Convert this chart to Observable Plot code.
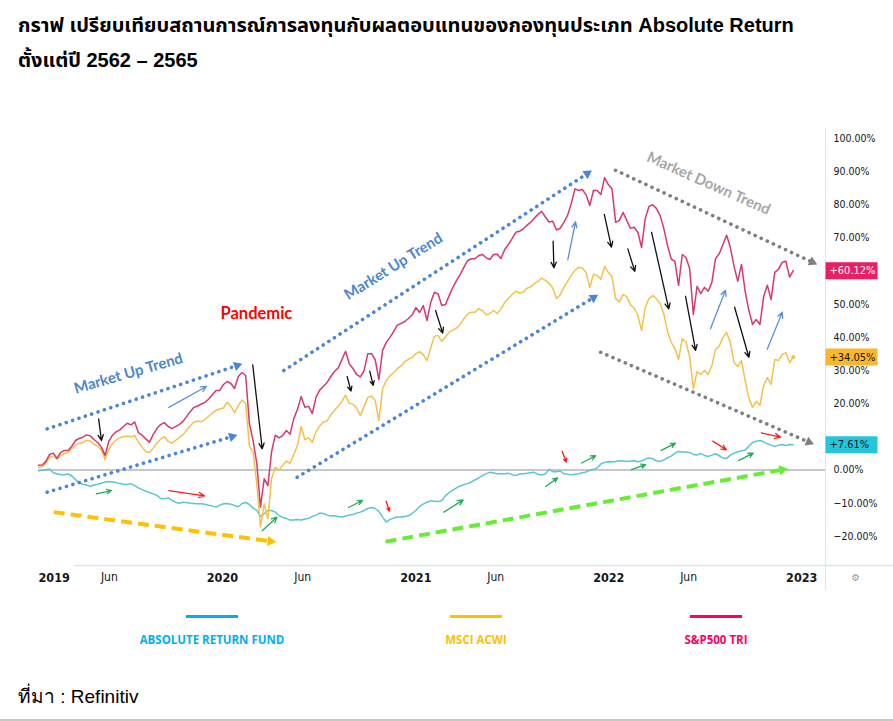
<!DOCTYPE html>
<html>
<head>
<meta charset="utf-8">
<script src="https://cdn.jsdelivr.net/npm/d3@7"></script>
<script src="https://cdn.jsdelivr.net/npm/@observablehq/plot@0.6"></script>
<style>
  body { margin: 0; background: #fff; }
  #wrap { position: relative; width: 893px; height: 721px; overflow: hidden; background: #fff; }
  #title { position: absolute; left: 18px; top: 8px; font: bold 20px/35px "Liberation Sans Narrow", "Liberation Sans", "Noto Sans Thai", sans-serif; color: #000; white-space: nowrap; }
  #chart { position: absolute; left: 0; top: 85px; }
  .lg { position: absolute; top: 615px; width: 220px; text-align: center; }
  .ln { width: 52px; height: 3px; margin: 0 auto; }
  .lt { margin-top: 15px; font: bold 11.5px/14px "Open Sans", sans-serif; }
  #caption { position: absolute; left: 18px; top: 684px; font: 19px/26px "Liberation Sans Narrow", "Liberation Sans", sans-serif; color: #000; }
  #bottomline { position: absolute; left: 0; top: 719px; width: 893px; height: 2px; background: #c8c8c8; }
</style>
</head>
<body>
<div id="wrap">
  <div id="title">กราฟ เปรียบเทียบสถานการณ์การลงทุนกับผลตอบแทนของกองทุนประเภท Absolute Return<br>ตั้งแต่ปี 2562 – 2565</div>
  <div id="chart"></div>
  <div id="legend"></div>
  <div id="caption">ที่มา : Refinitiv</div>
  <div id="bottomline"></div>
</div>
<script>
// ---------- data (weekly closes, % return since Jan 2019) ----------
const startDate = "2019-01-18";
const endDate = "2022-12-17";

const sp500 = [
  1.4, 1.5, 2.6, 4.7, 5.1, 3.5, 5.3, 5.9, 5.9, 7.2,
  8.9, 9.5, 9.9, 10.6, 10.3, 9.2, 8.3, 6.9, 4.4, 8.6,
  10.5, 11.5, 12.1, 13.2, 14.1, 13.6, 14.5, 11.3, 10.5, 9.4,
  8.4, 10.7, 12.5, 13.7, 14.3, 13.2, 12.5, 13.1, 13.7, 14.6,
  16.1, 17.6, 18.9, 19.3, 19.9, 20.4, 21.4, 22.7, 24.0, 24.0,
  25.8, 26.7, 26.1, 24.6, 28.2, 29.4, 28.5, 14.0, 8.9, 2.0,
  -11.2, -2.6, -4.7, 5.5, 10.5, 9.7, 10.4, 11.9, 10.8, 15.5,
  18.3, 22.2, 18.9, 19.2, 17.0, 21.9, 24.1, 25.2, 26.4, 28.2,
  29.7, 30.8, 33.3, 35.8, 32.0, 30.6, 28.8, 28.1, 30.0, 35.1,
  35.1, 33.3, 27.3, 36.1, 38.5, 40.0, 41.8, 43.7, 44.2, 44.8,
  45.7, 46.8, 49.0, 47.5, 49.6, 45.1, 50.5, 53.6, 53.1, 49.6,
  49.9, 52.6, 55.1, 57.2, 59.0, 61.2, 63.2, 63.7, 63.7, 64.7,
  65.0, 64.0, 63.5, 65.0, 65.1, 63.8, 66.5, 68.0, 69.8, 71.7,
  72.0, 72.7, 73.8, 74.7, 75.9, 77.1, 78.0, 76.3, 74.8, 75.0,
  72.4, 72.9, 74.7, 76.8, 80.4, 84.8, 84.3, 84.6, 83.0, 79.8,
  84.3, 84.3, 83.1, 88.2, 86.1, 84.8, 74.7, 75.3, 77.7, 75.3,
  72.9, 73.2, 71.7, 67.1, 75.9, 79.5, 80.0, 78.9, 76.8, 72.9,
  67.8, 63.7, 62.9, 55.7, 65.0, 64.1, 60.8, 46.9, 55.4, 53.2,
  55.1, 53.9, 56.6, 63.8, 65.2, 68.0, 70.8, 67.1, 61.4, 56.9,
  62.0, 53.9, 48.1, 43.9, 45.4, 43.9, 52.3, 55.7, 51.4, 59.6,
  60.5, 62.6, 63.0, 58.2, 60.12
];

const msciAcwi = [
  0.8, 0.9, 2.0, 3.8, 4.2, 3.3, 4.4, 5.0, 5.2, 6.5,
  7.5, 8.1, 8.3, 9.0, 8.7, 7.7, 7.2, 6.0, 3.2, 6.3,
  8.0, 9.1, 9.7, 10.1, 10.2, 10.0, 10.4, 8.4, 6.9, 5.6,
  5.3, 6.6, 8.1, 9.3, 10.0, 8.7, 8.1, 8.9, 9.7, 10.6,
  12.0, 13.3, 14.5, 14.7, 14.6, 15.3, 16.2, 17.2, 18.0, 18.4,
  18.7, 20.4, 19.2, 17.3, 19.4, 21.1, 20.1, 7.2, 5.3, -4.1,
  -17.2, -10.2, -14.7, -2.6, 0.8, 0.0, 1.4, 2.7, 2.0, 4.7,
  7.4, 13.1, 9.2, 9.7, 8.3, 11.6, 13.3, 14.5, 14.8, 16.6,
  18.0, 19.2, 20.7, 22.6, 20.1, 19.8, 18.6, 16.4, 19.2, 21.9,
  22.3, 21.0, 14.9, 24.5, 27.0, 28.4, 29.4, 30.6, 31.4, 32.7,
  33.4, 33.9, 35.1, 35.7, 34.8, 33.0, 36.8, 40.3, 40.6, 38.8,
  40.1, 41.6, 42.2, 42.8, 43.9, 45.7, 47.1, 47.6, 47.6, 48.7,
  48.0, 46.8, 47.2, 48.1, 47.2, 48.6, 50.5, 51.7, 52.9, 53.9,
  53.4, 53.6, 54.8, 55.2, 56.2, 56.9, 57.9, 57.2, 56.3, 54.9,
  51.7, 52.8, 55.1, 56.9, 58.7, 60.3, 61.1, 60.9, 59.6, 55.1,
  59.0, 58.7, 57.5, 61.4, 59.6, 58.4, 51.7, 50.7, 52.9, 52.3,
  49.8, 48.9, 46.6, 42.1, 49.0, 51.7, 52.6, 51.7, 50.2, 47.2,
  41.8, 38.5, 36.7, 33.3, 39.6, 38.6, 34.2, 24.6, 29.7, 28.8,
  30.0, 28.8, 31.5, 36.4, 37.4, 40.0, 41.5, 38.5, 32.4, 31.2,
  33.0, 27.0, 21.6, 18.9, 20.7, 19.5, 25.5, 27.9, 25.8, 33.3,
  33.0, 34.8, 35.4, 32.4, 34.05
];

const absReturnFund = [
  -0.2, -0.1, 0.1, 0.3, -0.8, -1.1, -1.4, -1.4, -1.2, -1.8,
  -2.9, -3.9, -4.3, -4.5, -4.9, -4.5, -4.3, -4.0, -3.6, -3.5,
  -3.6, -3.8, -4.1, -4.3, -4.4, -4.1, -4.7, -5.4, -5.9, -6.4,
  -6.8, -7.2, -7.6, -8.6, -8.7, -8.4, -9.1, -9.7, -10.0, -9.7,
  -9.8, -10.0, -10.1, -10.2, -10.2, -10.3, -10.6, -10.9, -11.2, -10.6,
  -10.2, -10.1, -10.3, -10.7, -11.1, -10.1, -9.8, -10.4, -11.5, -12.2,
  -14.0, -13.2, -12.2, -12.2, -12.7, -13.7, -14.3, -14.6, -15.1, -15.1,
  -14.9, -15.1, -14.8, -14.6, -14.0, -13.6, -13.0, -13.1, -13.6, -13.9,
  -13.8, -14.0, -14.2, -13.9, -13.6, -13.4, -13.0, -12.7, -12.2, -11.6,
  -11.3, -11.6, -12.5, -14.2, -15.7, -14.9, -14.5, -14.2, -14.2, -14.0,
  -13.8, -13.1, -12.2, -11.0, -10.3, -9.7, -9.3, -9.4, -9.5, -9.2,
  -7.8, -6.8, -6.1, -5.4, -4.8, -4.4, -4.1, -3.6, -3.0, -2.4,
  -1.7, -1.1, -0.7, -0.9, -1.1, -1.1, -1.1, -1.0, -1.4, -1.7,
  -1.2, -1.1, -1.0, -0.8, -0.7, -1.3, -1.5, -1.2, 0.2, -0.5,
  -0.5, -0.3, -1.1, -1.3, -1.4, -1.3, -1.1, -0.8, -0.6, -0.1,
  0.2, 0.6, 1.8, 2.3, 2.5, 2.4, 2.6, 2.8, 2.7, 2.6,
  2.7, 2.8, 2.5, 2.7, 3.3, 3.6, 3.4, 2.8, 2.6, 3.0,
  3.7, 4.2, 5.0, 5.6, 5.4, 5.4, 5.3, 4.7, 4.5, 5.0,
  4.4, 4.1, 4.5, 4.9, 4.3, 3.6, 3.5, 4.5, 5.1, 5.5,
  5.8, 6.0, 7.2, 8.3, 8.7, 8.9, 8.5, 7.9, 7.5, 7.1,
  7.5, 7.7, 7.4, 7.7, 7.61
];

const seriesNames = ["ABSOLUTE RETURN FUND", "MSCI ACWI", "S&P500 TRI"];
const lineColors = ["#5cc4d6", "#f2c14e", "#d63a6c"];
const legendColors = ["#00b0f0", "#ffc000", "#ff0066"];
const badgeColors = ["#26c6da", "#f9b82b", "#e91e63"];
const badgeTextColors = ["#131722", "#131722", "#ffffff"];

// 60.00% and 10.00% sit under the last-value badges, as in the original
const yTicks = [-20, -10, 0, 20, 30, 40, 50, 70, 80, 90, 100];
const xTickDates = ["2019-01-18", "2019-06-01", "2020-01-01", "2020-06-01", "2021-01-01", "2021-06-01", "2022-01-01", "2022-06-01", "2023-01-01"];
const xTickLabels = ["2019", "Jun", "2020", "Jun", "2021", "Jun", "2022", "Jun", "2023"];

// annotations (t = decimal year, v = % value)
const blueTrends = [
  {t1: 2019.092, v1: 12.4, t2: 2020.076, v2: 31.5},
  {t1: 2019.092, v1: -6.7, t2: 2020.050, v2: 10.1},
  {t1: 2020.318, v1: 30.0, t2: 2021.890, v2: 89.4},
  {t1: 2020.387, v1: -2.2, t2: 2021.922, v2: 52.0}
];
const grayTrends = [
  {t1: 2022.036, v1: 90.4, t2: 2023.055, v2: 62.7},
  {t1: 2021.959, v1: 35.5, t2: 2023.038, v2: 8.4}
];
const orangeTrend = [{t1: 2019.126, v1: -12.7, t2: 2020.249, v2: -21.5}];
const greenTrend = [{t1: 2020.845, v1: -21.6, t2: 2022.900, v2: 0.1}];

const trendLabels = [
  {t: 2019.513, v: 29.1, text: "Market Up Trend", rot: -16, color: "#4a86d0", size: 15},
  {t: 2020.886, v: 61.4, text: "Market Up Trend", rot: -32, color: "#4a86d0", size: 15},
  {t: 2022.518, v: 86.4, text: "Market Down Trend", rot: 24, color: "#a6a6a6", size: 15},
  {t: 2020.176, v: 47.2, text: "Pandemic", rot: 0, color: "#ff0000", size: 16.5}
];

const blackArrows = [
  [2019.359, 15.4, 2019.373, 8.9], [2020.157, 31.7, 2020.206, 6.4],
  [2020.646, 28.2, 2020.666, 23.8], [2020.763, 29.8, 2020.781, 25.5],
  [2021.104, 48.1, 2021.141, 41.3], [2021.713, 69.0, 2021.717, 61.0],
  [2021.978, 77.1, 2022.015, 67.2], [2022.100, 66.7, 2022.136, 59.9],
  [2022.223, 71.7, 2022.312, 48.6], [2022.399, 52.4, 2022.451, 36.1],
  [2022.653, 49.1, 2022.727, 34.0]
];
const blueArrows = [
  [2019.722, 18.9, 2019.917, 25.2], [2021.789, 63.4, 2021.829, 74.8],
  [2022.528, 42.6, 2022.606, 54.2], [2022.822, 36.4, 2022.900, 47.6]
];
const redArrows = [
  [2019.722, -6.2, 2019.907, -7.8], [2020.848, -9.4, 2020.865, -12.4],
  [2021.760, 5.6, 2021.782, 2.4], [2022.540, 8.7, 2022.610, 6.1],
  [2022.791, 11.2, 2022.891, 9.9]
];
const greenArrows = [
  [2019.347, -7.2, 2019.425, -6.2], [2020.206, -18.3, 2020.283, -14.2],
  [2020.653, -11.3, 2020.725, -9.2], [2021.147, -12.7, 2021.247, -9.0],
  [2021.674, -5.0, 2021.736, -2.4], [2021.860, 2.1, 2021.933, 4.3],
  [2022.118, 0.15, 2022.192, 1.6], [2022.273, 5.9, 2022.347, 8.1],
  [2022.675, 2.9, 2022.750, 5.1]
];

// ---------- build ----------
const W = 893, H = 515;
const mL = 38, mR = 68, mT = 43, mB = 35;
const xDomain = [new Date("2019-01-18"), new Date("2023-02-15")];
const yDomain = [-28.8, 103];
const yr = t => new Date(Date.UTC(2020, 0, 1) + (t - 2020) * 365.25 * 864e5);

const dates = d3.utcFriday.range(new Date(startDate), new Date(endDate));
const seriesValues = [absReturnFund, msciAcwi, sp500];
const rows = seriesValues.map((vals, s) => vals.map((v, i) => ({date: dates[i], value: v, s})));

// screen-space helper scales only for arrowhead orientation
const xs = d3.scaleUtc().domain(xDomain).range([mL, W - mR]);
const ys = d3.scaleLinear().domain(yDomain).range([H - mB, mT]);
const headAngle = d => Math.atan2(ys(d.v2) - ys(d.v1), xs(yr(d.t2)) - xs(yr(d.t1))) * 180 / Math.PI + 90;

const toObj = a => ({t1: a[0], v1: a[1], t2: a[2], v2: a[3]});
const arrowMark = (arr, color) => Plot.arrow(arr.map(toObj), {
  x1: d => yr(d.t1), y1: "v1", x2: d => yr(d.t2), y2: "v2",
  stroke: color, strokeWidth: 1.3, headLength: 7, headAngle: 50
});
const dottedMark = (arr, color) => [
  Plot.link(arr, {x1: d => yr(d.t1), y1: "v1", x2: d => yr(d.t2), y2: "v2",
    stroke: color, strokeWidth: 3.6, strokeDasharray: "0.1 6.6", strokeLinecap: "round"}),
  Plot.dot(arr, {x: d => yr(d.t2), y: "v2", symbol: "triangle2", r: 4.6, fill: color, stroke: "none", rotate: headAngle})
];
const dashedMark = (arr, color) => [
  Plot.link(arr, {x1: d => yr(d.t1), y1: "v1", x2: d => yr(d.t2), y2: "v2",
    stroke: color, strokeWidth: 4, strokeDasharray: "11 6"}),
  Plot.dot(arr, {x: d => yr(d.t2), y: "v2", symbol: "triangle2", r: 4.8, fill: color, stroke: "none", rotate: headAngle})
];

const badgeSymbol = {draw(ctx) { ctx.rect(0, -8.5, 52, 17); }};
const endLabels = seriesValues.map((vals, s) => ({v: vals[vals.length - 1], s}));
const xTicks = xTickDates.map((d, i) => ({date: new Date(d), label: xTickLabels[i], year: xTickLabels[i] !== "Jun"}));

const plot = Plot.plot({
  width: W, height: H,
  marginLeft: mL, marginRight: mR, marginTop: mT, marginBottom: mB,
  style: {fontFamily: "'Liberation Sans Narrow', 'DejaVu Sans Condensed', 'Liberation Sans', sans-serif", fontSize: "10.5px", color: "#131722", background: "#fff", overflow: "visible"},
  x: {type: "utc", domain: xDomain, axis: null},
  y: {domain: yDomain, axis: null},
  color: {type: "identity"},
  marks: [
    Plot.ruleX([xDomain[1]], {y1: yDomain[0] - 7.5, y2: yDomain[1], stroke: "#e0e3eb", strokeWidth: 1}),
    Plot.ruleY([yDomain[0]], {x1: yr(2019.233), x2: yr(2023.48), stroke: "#e0e3eb", strokeWidth: 1.5}),
    Plot.ruleY([0], {stroke: "#b2b5be", strokeWidth: 1.5}),
    Plot.axisY(yTicks, {anchor: "right", tickSize: 0, tickPadding: 8, fontSize: 10.5,
      tickFormat: d => (d < 0 ? "\u2212" : "") + Math.abs(d).toFixed(2) + "%"}),
    Plot.text(xTicks.filter(d => d.year && d.label === "2019"), {x: "date", y: () => yDomain[0], dy: 12, text: "label", textAnchor: "start", fontWeight: "bold", fontSize: 12.5, fill: "#131722"}),
    Plot.text(xTicks.filter(d => d.year && d.label !== "2019"), {x: "date", y: () => yDomain[0], dy: 12, text: "label", fontWeight: "bold", fontSize: 12.5, fill: "#131722"}),
    Plot.text(xTicks.filter(d => !d.year), {x: "date", y: () => yDomain[0], dy: 12, text: "label", fontSize: 12, fill: "#131722"}),
    Plot.text(["\u2699"], {x: () => yr(2023.28), y: () => yDomain[0], dy: 12, text: d => d, fontSize: 10, fill: "#9598a1"}),
    // series
    ...rows.map((r, s) => Plot.line(r, {x: "date", y: "value", stroke: lineColors[s], strokeWidth: 1.5})),
    Plot.dot([rows[1][rows[1].length - 1]], {x: "date", y: "value", r: 2, fill: lineColors[1], stroke: "none"}),
    // annotations
    ...dottedMark(blueTrends, "#4a86d6"),
    ...dottedMark(grayTrends, "#7f7f7f"),
    ...dashedMark(orangeTrend, "#ffc000"),
    ...dashedMark(greenTrend, "#66ee33"),
    arrowMark(blackArrows, "#111111"),
    arrowMark(blueArrows, "#5b8fdc"),
    arrowMark(redArrows, "#ff1a1a"),
    arrowMark(greenArrows, "#1fae55"),
    Plot.text(trendLabels, {x: d => yr(d.t), y: "v", text: "text", rotate: "rot", fill: "color", fontSize: "size",
      fontFamily: "Lato, 'Open Sans', sans-serif", fontWeight: "bold"}),
    // end badges
    Plot.dot(endLabels, {x: () => xDomain[1], y: "v", symbol: badgeSymbol, r: 5, fill: d => badgeColors[d.s], stroke: "none"}),
    Plot.text(endLabels, {x: () => xDomain[1], y: "v", dx: 4, textAnchor: "start", fontSize: 11,
      text: d => "+" + d.v.toFixed(2) + "%", fill: d => badgeTextColors[d.s]})
  ]
});
document.getElementById("chart").appendChild(plot);

// legend (HTML, below the chart)
const legendCenters = [212, 476, 716];
const legend = document.getElementById("legend");
seriesNames.forEach((name, i) => {
  const item = document.createElement("div");
  item.className = "lg";
  item.style.left = (legendCenters[i] - 110) + "px";
  item.innerHTML = `<div class="ln" style="background:${legendColors[i]}"></div><div class="lt" style="color:${legendColors[i]}">${name.replace("&", "&amp;")}</div>`;
  legend.appendChild(item);
});
</script>
</body>
</html>
